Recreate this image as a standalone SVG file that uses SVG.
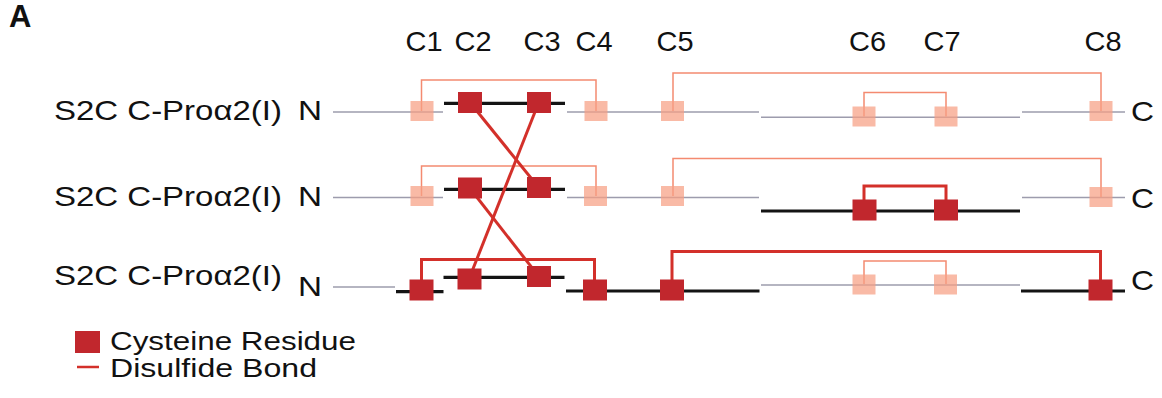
<svg xmlns="http://www.w3.org/2000/svg" width="1162" height="398" viewBox="0 0 1162 398">
<style>
text{font-family:"Liberation Sans",Arial,sans-serif;fill:#111;}
.lbl{font-size:27.5px;}
.leg{font-size:26px;}
.col{font-size:27.5px;text-anchor:middle;}
.gray{stroke:#9d9cad;stroke-width:1.6;fill:none;}
.blk{stroke:#141414;stroke-width:3.2;fill:none;}
.cys{fill:#c1272d;}
.pale{fill:#f7a084;opacity:0.72;}
.bond{stroke:#d3302a;stroke-width:3;fill:none;}
.pbond{stroke:#f48a70;stroke-width:1.5;fill:none;}
</style>
<rect width="1162" height="398" fill="#fff"/>
<text x="9" y="27" style="font-size:31px;font-weight:bold">A</text>

<g id="column-labels">
<text class="col" x="424" y="51" textLength="37" lengthAdjust="spacingAndGlyphs">C1</text>
<text class="col" x="473" y="51" textLength="37" lengthAdjust="spacingAndGlyphs">C2</text>
<text class="col" x="542" y="51" textLength="37" lengthAdjust="spacingAndGlyphs">C3</text>
<text class="col" x="594" y="51" textLength="37" lengthAdjust="spacingAndGlyphs">C4</text>
<text class="col" x="675" y="51" textLength="37" lengthAdjust="spacingAndGlyphs">C5</text>
<text class="col" x="867.5" y="51" textLength="37" lengthAdjust="spacingAndGlyphs">C6</text>
<text class="col" x="942" y="51" textLength="37" lengthAdjust="spacingAndGlyphs">C7</text>
<text class="col" x="1103" y="51" textLength="37" lengthAdjust="spacingAndGlyphs">C8</text>
</g>

<g id="backbones">
<path class="gray" d="M333,112 H443"/>
<path class="blk" d="M444,103.3 H565"/>
<path class="gray" d="M567,112 H759"/>
<path class="gray" d="M761,117.3 H1020"/>
<path class="gray" d="M1022,112 H1125"/>
<path class="gray" d="M333,197.5 H443"/>
<path class="blk" d="M444,189.3 H565"/>
<path class="gray" d="M567,197.5 H759"/>
<path class="blk" d="M761,211 H1020"/>
<path class="gray" d="M1022,197.5 H1125"/>
<path class="gray" d="M333,287 H395"/>
<path class="blk" d="M396,291.7 H443.5"/>
<path class="blk" d="M443.5,277.3 H564.5"/>
<path class="blk" d="M566,291 H759.5"/>
<path class="gray" d="M761,285 H1020"/>
<path class="blk" d="M1021,291 H1125"/>
</g>

<g id="connectors">
<path class="pbond" d="M421.5,111 V80 H596 V111"/>
<path class="pbond" d="M673,111 V73 H1101 V111"/>
<path class="pbond" d="M864,116.5 V92.5 H946 V116.5"/>
<path class="pbond" d="M421.5,196 V166 H596 V196"/>
<path class="pbond" d="M673,196 V158.5 H1101 V197"/>
<path class="bond" d="M864,209 V186 H946 V209"/>
<path class="bond" d="M421.5,290 V259.5 H594.5 V290"/>
<path class="bond" d="M672,290 V251.5 H1100.5 V290"/>
<path class="pbond" d="M864,284 V261 H946 V284"/>
<path class="bond" d="M470,102.5 L538.7,187.5"/>
<path class="bond" d="M538.7,102.5 L469,279"/>
<path class="bond" d="M469.7,188 L538.7,276.3"/>
</g>

<g id="row1">
<text class="lbl" x="54" y="119.5" textLength="228" lengthAdjust="spacingAndGlyphs">S2C C-Proα2(I)</text>
<text class="lbl" x="298" y="120" textLength="24" lengthAdjust="spacingAndGlyphs">N</text>
<text class="lbl" x="1131" y="121" textLength="23" lengthAdjust="spacingAndGlyphs">C</text>
</g>
<g id="r1-C1"><rect class="pale" x="410.5" y="101" width="23" height="20"/></g>
<g id="r1-C2"><rect class="cys" x="458" y="92" width="24" height="21"/></g>
<g id="r1-C3"><rect class="cys" x="527" y="92" width="24" height="21"/></g>
<g id="r1-C4"><rect class="pale" x="584.5" y="101" width="23" height="20"/></g>
<g id="r1-C5"><rect class="pale" x="661" y="101" width="23" height="20"/></g>
<g id="r1-C6"><rect class="pale" x="852.5" y="106.5" width="23" height="20"/></g>
<g id="r1-C7"><rect class="pale" x="934.5" y="106.5" width="23" height="20"/></g>
<g id="r1-C8"><rect class="pale" x="1089.5" y="101" width="23" height="20"/></g>

<g id="row2">
<text class="lbl" x="54" y="206" textLength="228" lengthAdjust="spacingAndGlyphs">S2C C-Proα2(I)</text>
<text class="lbl" x="298" y="206" textLength="24" lengthAdjust="spacingAndGlyphs">N</text>
<text class="lbl" x="1131" y="208" textLength="23" lengthAdjust="spacingAndGlyphs">C</text>
</g>
<g id="r2-C1"><rect class="pale" x="410.5" y="186" width="23" height="20"/></g>
<g id="r2-C2"><rect class="cys" x="458" y="177.5" width="24" height="21"/></g>
<g id="r2-C3"><rect class="cys" x="527" y="177" width="24" height="21"/></g>
<g id="r2-C4"><rect class="pale" x="584" y="186" width="23" height="20"/></g>
<g id="r2-C5"><rect class="pale" x="661" y="186" width="23" height="20"/></g>
<g id="r2-C6"><rect class="cys" x="852.5" y="199.5" width="24" height="21"/></g>
<g id="r2-C7"><rect class="cys" x="934" y="199.5" width="24" height="21"/></g>
<g id="r2-C8"><rect class="pale" x="1089.5" y="187" width="23" height="20"/></g>

<g id="row3">
<text class="lbl" x="54" y="285" textLength="228" lengthAdjust="spacingAndGlyphs">S2C C-Proα2(I)</text>
<text class="lbl" x="298" y="295.5" textLength="24" lengthAdjust="spacingAndGlyphs">N</text>
<text class="lbl" x="1131" y="290" textLength="23" lengthAdjust="spacingAndGlyphs">C</text>
</g>
<g id="r3-C1"><rect class="cys" x="409.5" y="279.5" width="24" height="21"/></g>
<g id="r3-C2"><rect class="cys" x="457.5" y="268.5" width="24" height="21"/></g>
<g id="r3-C3"><rect class="cys" x="527" y="266" width="24" height="21"/></g>
<g id="r3-C4"><rect class="cys" x="583" y="279.5" width="24" height="21"/></g>
<g id="r3-C5"><rect class="cys" x="660" y="279.5" width="24" height="21"/></g>
<g id="r3-C6"><rect class="pale" x="852.5" y="274.5" width="23" height="20"/></g>
<g id="r3-C7"><rect class="pale" x="934" y="274.5" width="23" height="20"/></g>
<g id="r3-C8"><rect class="cys" x="1088.5" y="279.5" width="24" height="21"/></g>

<g id="legend">
<rect class="cys" x="75" y="331" width="25" height="22"/>
<text class="leg" x="110" y="349.5" textLength="246" lengthAdjust="spacingAndGlyphs">Cysteine Residue</text>
<path class="bond" d="M77,367 H99" style="stroke-width:2.5"/>
<text class="leg" x="110" y="376.5" textLength="207" lengthAdjust="spacingAndGlyphs">Disulfide Bond</text>
</g>
</svg>
